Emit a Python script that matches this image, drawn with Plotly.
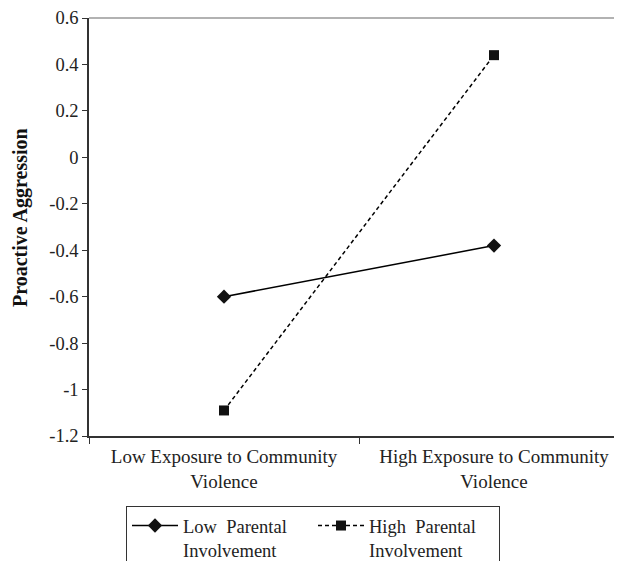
import plotly.graph_objects as go

categories = ["Low Exposure to Community<br>Violence", "High Exposure to Community<br>Violence"]
low_pi = [-0.60, -0.38]
high_pi = [-1.09, 0.44]
series_names = ["Low  Parental<br>Involvement", "High  Parental<br>Involvement"]
y_ticks = [0.6, 0.4, 0.2, 0, -0.2, -0.4, -0.6, -0.8, -1, -1.2]
y_labels = ["0.6", "0.4", "0.2", "0", "-0.2", "-0.4", "-0.6", "-0.8", "-1", "-1.2"]

xpos = list(range(len(categories)))
FONT = "Liberation Serif"

# the page body adds an 8px margin; the figure is sized to fill the rest of the window
W, H = 614, 553
L, T, B = 81, 10, 125
PW = W - L

fig = go.Figure()
fig.add_trace(go.Scatter(
    x=xpos, y=low_pi, name=series_names[0], mode="lines+markers",
    line=dict(color="black", width=1.5, dash="solid"),
    marker=dict(symbol="diamond", size=11, color="#111"),
))
fig.add_trace(go.Scatter(
    x=xpos, y=high_pi, name=series_names[1], mode="lines+markers",
    line=dict(color="black", width=1.5, dash="4px,3px"),
    marker=dict(symbol="square", size=10, color="#111"),
))

fig.update_layout(
    width=W, height=H,
    margin=dict(l=L, r=0, t=T, b=B, pad=0),
    paper_bgcolor="white", plot_bgcolor="white",
    font=dict(family=FONT, size=17, color="#222"),
    showlegend=True,
    legend=dict(
        orientation="h", xref="container", yref="container",
        x=118 / W, xanchor="left", y=(H - 498) / H, yanchor="top",
        bordercolor="#333", borderwidth=1, font=dict(size=18.5, family=FONT, color="#222"),
        itemwidth=46, entrywidth=125, entrywidthmode="pixels", tracegroupgap=0,
        valign="top",
    ),
    xaxis=dict(
        range=[-0.5, -0.5 + PW / 270], tickvals=xpos, ticktext=categories,
        ticks="", showgrid=False, zeroline=False, showline=True, automargin=False,
        linecolor="#333", linewidth=2, tickfont=dict(size=19, family=FONT, color="#222"),
        ticklabelstandoff=2,
        minor=dict(tickvals=[-0.5, 0.5, 1.5], ticks="outside", ticklen=6, tickcolor="#333", tickwidth=1),
    ),
    yaxis=dict(
        range=[-1.2, 0.6], tickvals=y_ticks, ticktext=y_labels, automargin=False,
        ticks="outside", ticklen=5, tickcolor="#333", tickwidth=1,
        showgrid=False, zeroline=False, showline=True, linecolor="#333", linewidth=1.5,
        tickfont=dict(size=18.5, family=FONT, color="#222"),
    ),
    shapes=[dict(type="line", xref="paper", yref="paper", x0=0, x1=1, y0=1, y1=1,
                 line=dict(color="#999", width=1.5))],
    annotations=[dict(
        text="<b>Proactive Aggression</b>", textangle=-90, xref="paper", yref="paper",
        x=0, xshift=-69, y=(428 - 210) / 418, xanchor="center", yanchor="middle",
        showarrow=False, font=dict(size=20, family=FONT, color="#111"),
    )],
)

fig.write_html("out.html")
